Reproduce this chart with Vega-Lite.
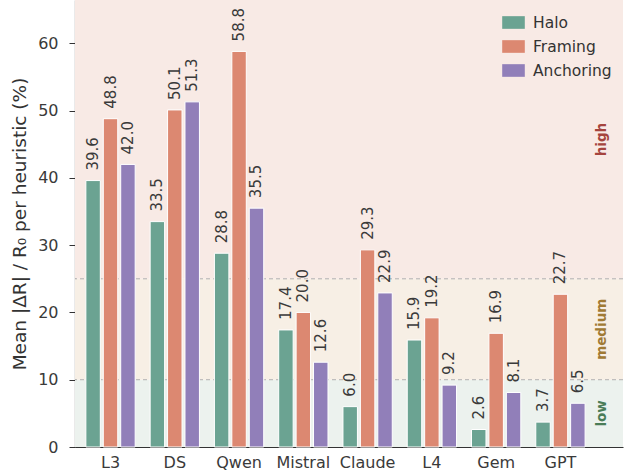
{
  "$schema": "https://vega.github.io/schema/vega-lite/v6.json",
  "width": 548,
  "height": 447,
  "autosize": {"type": "none"},
  "padding": {"left": 75, "top": 0, "right": 1, "bottom": 27},
  "background": "white",
  "config": {
    "view": {"stroke": null},
    "font": "DejaVu Sans",
    "text": {"font": "DejaVu Sans"}
  },
  "datasets": {
    "bars": [
      {"model": "L3", "heuristic": "Halo", "value": 39.6},
      {"model": "L3", "heuristic": "Framing", "value": 48.8},
      {"model": "L3", "heuristic": "Anchoring", "value": 42.0},
      {"model": "DS", "heuristic": "Halo", "value": 33.5},
      {"model": "DS", "heuristic": "Framing", "value": 50.1},
      {"model": "DS", "heuristic": "Anchoring", "value": 51.3},
      {"model": "Qwen", "heuristic": "Halo", "value": 28.8},
      {"model": "Qwen", "heuristic": "Framing", "value": 58.8},
      {"model": "Qwen", "heuristic": "Anchoring", "value": 35.5},
      {"model": "Mistral", "heuristic": "Halo", "value": 17.4},
      {"model": "Mistral", "heuristic": "Framing", "value": 20.0},
      {"model": "Mistral", "heuristic": "Anchoring", "value": 12.6},
      {"model": "Claude", "heuristic": "Halo", "value": 6.0},
      {"model": "Claude", "heuristic": "Framing", "value": 29.3},
      {"model": "Claude", "heuristic": "Anchoring", "value": 22.9},
      {"model": "L4", "heuristic": "Halo", "value": 15.9},
      {"model": "L4", "heuristic": "Framing", "value": 19.2},
      {"model": "L4", "heuristic": "Anchoring", "value": 9.2},
      {"model": "Gem", "heuristic": "Halo", "value": 2.6},
      {"model": "Gem", "heuristic": "Framing", "value": 16.9},
      {"model": "Gem", "heuristic": "Anchoring", "value": 8.1},
      {"model": "GPT", "heuristic": "Halo", "value": 3.7},
      {"model": "GPT", "heuristic": "Framing", "value": 22.7},
      {"model": "GPT", "heuristic": "Anchoring", "value": 6.5}
    ],
    "bands": [
      {"band": "low", "lo": 0, "hi": 10, "mid": 5},
      {"band": "medium", "lo": 10, "hi": 25, "mid": 17.5},
      {"band": "high", "lo": 25, "hi": 66.44, "mid": 45.7}
    ],
    "lines": [{"v": 10}, {"v": 25}]
  },
  "resolve": {"scale": {"color": "independent"}},
  "layer": [
    {
      "data": {"name": "bands"},
      "mark": {"type": "rect"},
      "encoding": {
        "y": {
          "field": "lo", "type": "quantitative",
          "scale": {"domain": [0, 66.44], "nice": false, "zero": true},
          "axis": {
            "values": [0, 10, 20, 30, 40, 50, 60],
            "grid": false,
            "tickSize": 6,
            "tickColor": "#333333",
            "domainColor": "#333333",
            "domainWidth": 1.2,
            "labelFontSize": 16,
            "labelColor": "#3a3a3a",
            "labelPadding": 11,
            "title": "Mean |ΔR| / R₀ per heuristic (%)",
            "titleFontSize": 18.5,
            "titleFontWeight": "normal",
            "titleColor": "#333333",
            "titlePadding": 8
          }
        },
        "y2": {"field": "hi"},
        "color": {
          "field": "band", "type": "nominal",
          "scale": {"domain": ["low", "medium", "high"], "range": ["#ecf2ee", "#f7efe5", "#f8eae5"]},
          "legend": null
        }
      }
    },
    {
      "data": {"name": "lines"},
      "mark": {"type": "rule", "color": "#b0b0b0", "strokeWidth": 1, "strokeDash": [4, 3]},
      "encoding": {
        "y": {"field": "v", "type": "quantitative"}
      }
    },
    {
      "data": {"name": "bars"},
      "mark": {"type": "bar", "stroke": "white", "strokeWidth": 1},
      "encoding": {
        "x": {
          "field": "model", "type": "nominal",
          "sort": ["L3", "DS", "Qwen", "Mistral", "Claude", "L4", "Gem", "GPT"],
          "scale": {"paddingInner": 0, "paddingOuter": 0.263, "align": 0.1},
          "axis": {
            "title": null,
            "labelAngle": 0,
            "ticks": false,
            "labelFontSize": 16,
            "labelColor": "#3a3a3a",
            "labelPadding": 7,
            "domainColor": "#333333",
            "domainWidth": 1.2
          }
        },
        "xOffset": {
          "field": "heuristic", "type": "nominal",
          "sort": ["Halo", "Framing", "Anchoring"],
          "scale": {"paddingInner": 0.17, "paddingOuter": 0.43}
        },
        "y": {"field": "value", "type": "quantitative"},
        "color": {
          "field": "heuristic", "type": "nominal",
          "sort": ["Halo", "Framing", "Anchoring"],
          "scale": {"domain": ["Halo", "Framing", "Anchoring"], "range": ["#6ba392", "#dc8871", "#917fb9"]},
          "legend": {
            "title": null,
            "orient": "none",
            "legendX": 427,
            "legendY": 11,
            "padding": 0,
            "symbolType": "M-1,-0.56H1V0.56H-1Z",
            "symbolSize": 511,
            "symbolStrokeWidth": 0,
            "symbolOpacity": 1,
            "labelFontSize": 15.5,
            "labelColor": "#333333",
            "labelOffset": 8,
            "rowPadding": 4
          }
        }
      }
    },
    {
      "data": {"name": "bars"},
      "mark": {"type": "text", "angle": 270, "align": "left", "baseline": "middle", "dx": 10, "fontSize": 15, "color": "#3a3a3a"},
      "encoding": {
        "x": {"field": "model", "type": "nominal", "sort": ["L3", "DS", "Qwen", "Mistral", "Claude", "L4", "Gem", "GPT"]},
        "xOffset": {"field": "heuristic", "type": "nominal", "sort": ["Halo", "Framing", "Anchoring"]},
        "y": {"field": "value", "type": "quantitative"},
        "text": {"field": "value", "type": "quantitative", "format": ".1f"}
      }
    },
    {
      "data": {"name": "bands"},
      "mark": {"type": "text", "angle": 270, "align": "center", "baseline": "middle", "dy": -21, "fontSize": 13.5, "fontWeight": "bold"},
      "encoding": {
        "x": {"value": "width"},
        "y": {"field": "mid", "type": "quantitative"},
        "text": {"field": "band", "type": "nominal"},
        "color": {
          "field": "band", "type": "nominal",
          "scale": {"domain": ["low", "medium", "high"], "range": ["#4a7d57", "#a07a34", "#a5443d"]},
          "legend": null
        }
      }
    }
  ]
}
